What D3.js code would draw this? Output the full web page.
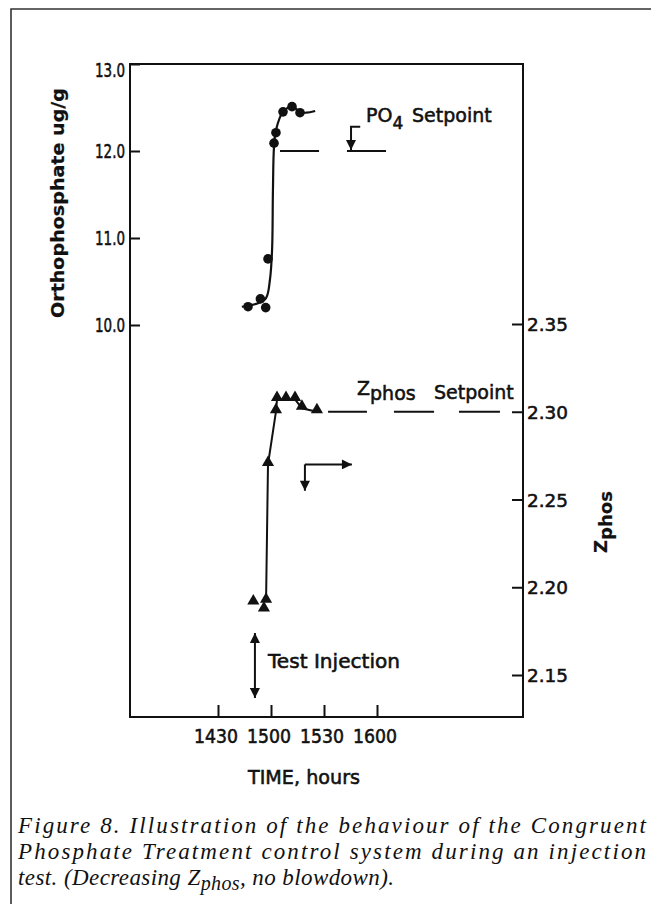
<!DOCTYPE html>
<html><head><meta charset="utf-8">
<script src="https://cdn.jsdelivr.net/npm/d3@7"></script>
<style>
html,body{margin:0;padding:0;background:#fff;}
svg{display:block;}
.lab{font-family:"DejaVu Sans",sans-serif;fill:#111;stroke:#111;stroke-width:0.55px;}
.cap{font-family:"Liberation Serif",serif;font-style:italic;fill:#111;}
</style></head>
<body>
<script>
// ---- data (time in minutes after 14:00) ----
const xTickValues = [30, 60, 90, 120];
const xTickLabels = ["1430", "1500", "1530", "1600"];
const leftTicks = [10.0, 11.0, 12.0, 13.0];
const leftTickLabels = ["10.0", "11.0", "12.0", "13.0"];
const rightTicks = [2.15, 2.20, 2.25, 2.30, 2.35];
const rightTickLabels = ["2.15", "2.20", "2.25", "2.30", "2.35"];

const orthoTime  = [47, 54, 57, 58.3, 61.7, 62.8, 66.8, 71.9, 76.4];
const orthoValue = [10.21, 10.30, 10.20, 10.76, 12.09, 12.21, 12.45, 12.51, 12.44];
const orthoFitTime  = [43.5, 52.6, 57.2, 59.4, 60.6, 61.1, 61.7, 62.8, 66.8, 71.9, 76.4, 80, 85];
const orthoFitValue = [10.21, 10.25, 10.31, 10.52, 10.86, 11.55, 12.05, 12.24, 12.45, 12.51, 12.45, 12.44, 12.46];

const zphosTime  = [50, 56, 57.2, 58.3, 62.8, 63.4, 68.5, 73.6, 77.5, 86];
const zphosValue = [2.191, 2.187, 2.192, 2.270, 2.300, 2.307, 2.307, 2.307, 2.302, 2.300];

const po4SetpointDashes = [[65.1, 87.2], [103, 125.1]];
const po4Setpoint = 12.0;
const zphosSetpointDashes = [[92.3, 114.3], [129.6, 152.3], [166.4, 189.6]];
const zphosSetpoint = 2.30;

const captionLines = [
  "Figure 8. Illustration of the behaviour of the Congruent",
  "Phosphate Treatment control system during an injection"
];

// ---- layout ----
const W = 651, H = 904;
const svg = d3.select("body").append("svg").attr("width", W).attr("height", H);
const defs = svg.append("defs");
defs.append("marker").attr("id","ah").attr("viewBox","0 0 10 10").attr("refX",10).attr("refY",5)
  .attr("markerWidth",14).attr("markerHeight",10).attr("markerUnits","userSpaceOnUse")
  .attr("orient","auto-start-reverse")
  .append("path").attr("d","M0,0 L10,5 L0,10 Z").attr("fill","#111");

const plot = {l:130, r:523, t:64, b:717};
const x = d3.scaleLinear().domain([30, 120]).range([218, 377]);
const yL = d3.scaleLinear().domain([10, 13]).range([325, 64]);
const yR = d3.scaleLinear().domain([2.15, 2.35]).range([675, 324]);

// outer border
svg.append("path").attr("d", `M11,904 V9 H651`).attr("fill","none").attr("stroke","#333").attr("stroke-width",1.6);

// plot frame
svg.append("rect").attr("x",plot.l).attr("y",plot.t).attr("width",plot.r-plot.l).attr("height",plot.b-plot.t)
  .attr("fill","none").attr("stroke","#111").attr("stroke-width",2);

// left axis
const axL = svg.append("g").attr("transform",`translate(${plot.l},0)`)
  .call(d3.axisRight(yL).tickValues(leftTicks).tickSize(10).tickFormat(()=>""));
axL.select(".domain").remove();
axL.selectAll(".tick line").attr("stroke","#111").attr("stroke-width",2);
svg.append("g").selectAll("text").data(leftTicks).join("text").attr("class","lab")
  .attr("x",125).attr("y",d=>Math.max(yL(d)+7, plot.t+13)).attr("text-anchor","end").attr("font-size",19)
  .attr("textLength",30).attr("lengthAdjust","spacingAndGlyphs")
  .text((d,i)=>leftTickLabels[i]);

// right axis
const axR = svg.append("g").attr("transform",`translate(${plot.r},0)`)
  .call(d3.axisLeft(yR).tickValues(rightTicks).tickSize(11).tickFormat(()=>""));
axR.select(".domain").remove();
axR.selectAll(".tick line").attr("stroke","#111").attr("stroke-width",2);
svg.append("g").selectAll("text").data(rightTicks).join("text").attr("class","lab")
  .attr("x",527).attr("y",d=>yR(d)+7).attr("text-anchor","start").attr("font-size",18)
  .attr("textLength",41).attr("lengthAdjust","spacingAndGlyphs")
  .text((d,i)=>rightTickLabels[i]);

// x axis
const axX = svg.append("g").attr("transform",`translate(0,${plot.b})`)
  .call(d3.axisTop(x).tickValues(xTickValues).tickSize(12).tickFormat(()=>""));
axX.select(".domain").remove();
axX.selectAll(".tick line").attr("stroke","#111").attr("stroke-width",2);
svg.append("g").selectAll("text").data(xTickValues).join("text").attr("class","lab")
  .attr("x",d=>x(d)-2).attr("y",743).attr("text-anchor","middle").attr("font-size",19)
  .attr("textLength",44).attr("lengthAdjust","spacingAndGlyphs")
  .text((d,i)=>xTickLabels[i]);

svg.append("text").attr("class","lab").attr("x",304).attr("y",784).attr("text-anchor","middle")
  .attr("font-size",19).attr("textLength",112).attr("lengthAdjust","spacingAndGlyphs").text("TIME, hours");

// left axis title
svg.append("text").attr("class","lab").attr("transform","translate(64,203) rotate(-90)")
  .attr("text-anchor","middle").attr("font-size",17).attr("font-weight","bold").style("stroke-width","0.2px")
  .attr("textLength",230).attr("lengthAdjust","spacingAndGlyphs")
  .text("Orthophosphate  ug/g");

// right axis title
const zt = svg.append("text").attr("class","lab").attr("transform","translate(607,553) rotate(-90)")
  .attr("font-size",18).attr("font-weight","bold").style("stroke-width","0.2px");
zt.append("tspan").text("Z");
zt.append("tspan").attr("dy",5).text("phos");

// orthophosphate fit curve
const fitPts = orthoFitTime.map((t,i)=>[x(t), yL(orthoFitValue[i])]);
svg.append("path").attr("d", d3.line().curve(d3.curveCatmullRom.alpha(0.5))(fitPts))
  .attr("fill","none").attr("stroke","#111").attr("stroke-width",2.2);
svg.append("g").selectAll("circle").data(orthoTime).join("circle")
  .attr("cx",d=>x(d)).attr("cy",(d,i)=>yL(orthoValue[i])).attr("r",4.8).attr("fill","#111");

// PO4 setpoint
svg.append("g").selectAll("line").data(po4SetpointDashes).join("line")
  .attr("x1",d=>x(d[0])).attr("x2",d=>x(d[1])).attr("y1",yL(po4Setpoint)).attr("y2",yL(po4Setpoint))
  .attr("stroke","#111").attr("stroke-width",2);
svg.append("path").attr("d",`M${x(110.5)},${yL(12.28)} H${x(105.3)} V${yL(po4Setpoint)-1}`)
  .attr("fill","none").attr("stroke","#111").attr("stroke-width",2).attr("marker-end","url(#ah)");
const pt = svg.append("text").attr("class","lab").attr("x",366).attr("y",122).attr("font-size",19);
pt.append("tspan").text("PO");
pt.append("tspan").attr("dy",7).attr("font-size",17).text("4");
pt.append("tspan").attr("dy",-7).attr("x",412).text("Setpoint");

// Zphos line + triangles
const zPts = zphosTime.map((t,i)=>[x(t), yR(zphosValue[i])]).slice(2);
svg.append("path").attr("d", d3.line()(zPts)).attr("fill","none").attr("stroke","#111").attr("stroke-width",2);
const tri = d3.symbol().type(d3.symbolTriangle).size(64);
svg.append("g").selectAll("path").data(zphosTime).join("path")
  .attr("d",tri).attr("transform",(d,i)=>`translate(${x(d)},${yR(zphosValue[i])-2})`).attr("fill","#111");

// Zphos setpoint
svg.append("g").selectAll("line").data(zphosSetpointDashes).join("line")
  .attr("x1",d=>x(d[0])).attr("x2",d=>x(d[1])).attr("y1",yR(zphosSetpoint)).attr("y2",yR(zphosSetpoint))
  .attr("stroke","#111").attr("stroke-width",2);
const zs = svg.append("text").attr("class","lab").attr("x",357).attr("y",395).attr("font-size",19);
zs.append("tspan").text("Z");
zs.append("tspan").attr("dy",5).text("phos");
zs.append("tspan").attr("dy",-1).attr("x",434).text("Setpoint");

// direction arrow
svg.append("path").attr("d",`M${x(79.2)},${yR(2.270)} H${x(105.8)}`)
  .attr("fill","none").attr("stroke","#111").attr("stroke-width",2).attr("marker-end","url(#ah)");
svg.append("path").attr("d",`M${x(79.2)},${yR(2.270)} V${yR(2.255)}`)
  .attr("fill","none").attr("stroke","#111").attr("stroke-width",2).attr("marker-end","url(#ah)");

// test injection arrow
svg.append("path").attr("d",`M${x(50.9)},633 V698`)
  .attr("fill","none").attr("stroke","#111").attr("stroke-width",2)
  .attr("marker-start","url(#ah)").attr("marker-end","url(#ah)");
svg.append("text").attr("class","lab").attr("x",268).attr("y",668).attr("font-size",19)
  .attr("textLength",132).attr("lengthAdjust","spacingAndGlyphs").text("Test Injection");

// caption
svg.append("g").selectAll("text").data(captionLines).join("text").attr("class","cap")
  .attr("x",18).attr("y",(d,i)=>833+i*26).attr("font-size",23)
  .attr("textLength",628).attr("lengthAdjust","spacing").text(d=>d);
const c3 = svg.append("text").attr("class","cap").attr("x",18).attr("y",885).attr("font-size",23);
c3.append("tspan").text("test. (Decreasing Z");
c3.append("tspan").attr("dy",5).attr("font-size",20).text("phos");
c3.append("tspan").attr("dy",-5).text(", no blowdown).");
c3.attr("textLength",376).attr("lengthAdjust","spacing");
</script>
</body></html>
